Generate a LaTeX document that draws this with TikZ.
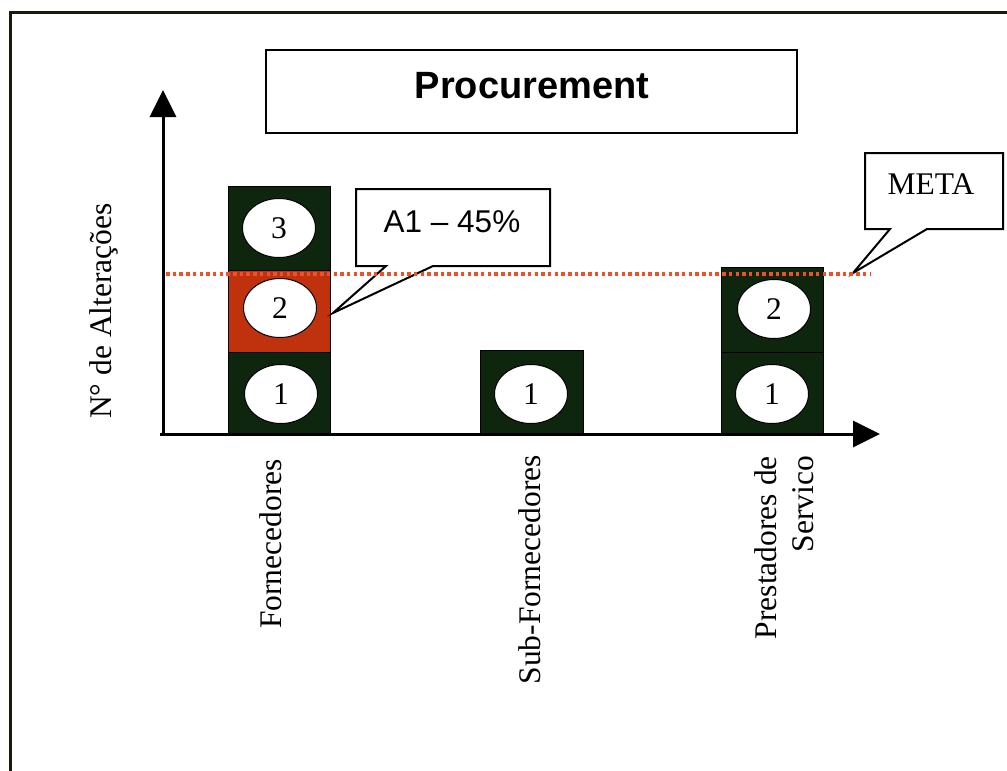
\documentclass[tikz,border=0pt]{standalone}
\usepackage{fontspec}
\setmainfont{Liberation Serif}
\setsansfont{Liberation Sans}
\usetikzlibrary{arrows.meta,calc,shapes.geometric}
\definecolor{bargreen}{RGB}{14,38,14}
\definecolor{barred}{RGB}{192,50,14}
\definecolor{metadot}{RGB}{240,80,40}
\definecolor{framec}{RGB}{25,25,15}
\begin{document}
\begin{tikzpicture}[x=1pt,y=-1pt,
  lbl/.style={font=\fontsize{31.5}{36}\selectfont, inner sep=0pt},
  sanslbl/.style={font=\sffamily\fontsize{31.5}{36}\selectfont, inner sep=0pt},
  titlelbl/.style={font=\sffamily\bfseries\fontsize{38}{44}\selectfont, inner sep=0pt},
  segbox/.style={draw=black, line width=1pt, fill=bargreen, inner sep=0pt},
  redbox/.style={segbox, fill=barred},
  oval/.style={ellipse, draw=black, line width=1pt, fill=white, minimum width=73pt, minimum height=59pt, inner sep=0pt, font=\fontsize{31.5}{36}\selectfont},
  boxline/.style={draw=black, line width=2pt, fill=white, line join=miter},
  axisline/.style={line width=3pt, -{Triangle[length=27pt,width=26pt]}},
  metaline/.style={draw=metadot, line width=4pt, dash pattern=on 3.5pt off 3.2pt}]
\useasboundingbox (0,0) rectangle (1007,771);
\clip (0,0) rectangle (1007,771);
% outer frame
\draw[framec, line width=3pt] (10,12) rectangle (1020,790);
% title
\node[boxline, minimum width=531pt, minimum height=83pt] (titlebox) at (531.5,91.5) {};
\node[titlelbl, anchor=base] (title) at (532,98) {Procurement};
% bars: Fornecedores
\node[segbox, minimum width=102pt, minimum height=84pt] (f3) at (279,228) {};
\node[redbox, minimum width=102pt, minimum height=82pt] (f2) at (279,311) {};
\node[segbox, minimum width=102pt, minimum height=83pt] (f1) at (279,393.5) {};
% Sub-Fornecedores
\node[segbox, minimum width=103pt, minimum height=85pt] (s1) at (531.5,392.5) {};
% Prestadores de Servico
\node[segbox, minimum width=102pt, minimum height=85pt] (p2) at (772,309.5) {};
\node[segbox, minimum width=102pt, minimum height=83pt] (p1) at (772,393.5) {};
% ellipses
\node[oval] (ef3) at (279,228) {3};
\node[oval] (ef2) at (280,308) {2};
\node[oval] (ef1) at (281,394) {1};
\node[oval] (es1) at (531,394) {1};
\node[oval] (ep2) at (774,309) {2};
\node[oval] (ep1) at (772,394) {1};
% callout A1
\coordinate (a1nw) at (356,189);
\coordinate (a1ne) at (550,189);
\coordinate (a1se) at (550,266);
\coordinate (a1sw) at (356,266);
\coordinate (a1b1) at (386,266);
\coordinate (a1b2) at (433,266);
\coordinate (a1tip) at (333,313);
\draw[boxline] (a1nw) -- (a1ne) -- (a1se) -- (a1b2) -- (a1tip) -- (a1b1) -- (a1sw) -- cycle;
\node[sanslbl, anchor=base] (a1) at (452,232) {A1 -- 45\%};
% callout META
\coordinate (mnw) at (865,153);
\coordinate (mne) at (1003,153);
\coordinate (mse) at (1003,229);
\coordinate (msw) at (865,229);
\coordinate (mb1) at (890,229);
\coordinate (mb2) at (927,229);
\coordinate (mtip) at (853,273);
\draw[boxline] (mnw) -- (mne) -- (mse) -- (mb2) -- (mtip) -- (mb1) -- (msw) -- cycle;
\node[lbl, anchor=base] (meta) at (931,194) {META};
% axes
\coordinate (yo) at (163,436);
\coordinate (ytip) at (163,90);
\coordinate (xo) at (160,434);
\coordinate (xtip) at (880,434);
\draw[axisline] (yo) -- (ytip);
\draw[axisline] (xo) -- (xtip);
% target line
\coordinate (d0) at (166,274);
\coordinate (d1) at (870,274);
\draw[metaline] (d0) -- (d1);
% axis labels
\node[lbl, rotate=90, anchor=base] (ylab) at (111,311) {N° de Alterações};
\node[lbl, rotate=90, anchor=base east] (lf) at (281,459) {Fornecedores};
\node[lbl, rotate=90, anchor=base east] (ls) at (540,455) {Sub-Fornecedores};
\node[lbl, rotate=90, anchor=base east] (lp1) at (776,456) {Prestadores de};
\node[lbl, rotate=90, anchor=base east] (lp2) at (813,456) {Servico};
\end{tikzpicture}
\end{document}
